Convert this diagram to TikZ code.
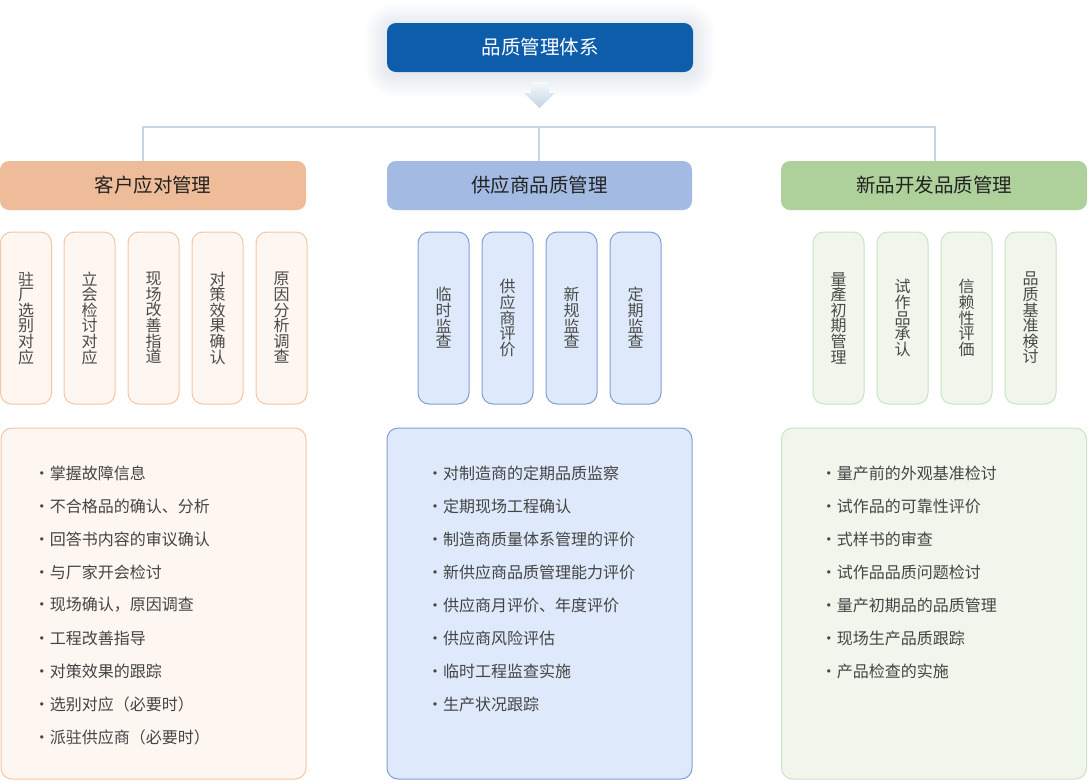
\documentclass[tikz,border=0pt]{standalone}
\usepackage{fontspec}
\setmainfont{Noto Sans CJK SC}
\definecolor{topblue}{HTML}{0E5DAA}
\definecolor{glowcol}{HTML}{3A5F8A}
\definecolor{lineblue}{HTML}{C4D6E5}
\definecolor{arrowtop}{HTML}{F6F9FB}
\definecolor{arrowbot}{HTML}{C3D4E2}
\definecolor{orangecat}{HTML}{EEBC98}
\definecolor{orangefill}{HTML}{FEF6F1}
\definecolor{orangeedge}{HTML}{F3C6A6}
\definecolor{bluecat}{HTML}{A3BBE3}
\definecolor{bluefill}{HTML}{DEEAFB}
\definecolor{blueedge}{HTML}{7F9FD3}
\definecolor{greencat}{HTML}{AED19B}
\definecolor{greenfill}{HTML}{F0F6EC}
\definecolor{greenedge}{HTML}{CBE3BF}
\definecolor{catcol}{HTML}{222222}
\definecolor{vtext}{HTML}{4A4A4A}
\definecolor{itemtext}{HTML}{444444}
\tikzset{
  conn/.style={draw=lineblue, line width=2pt},
  topbox/.style={fill=topblue, rounded corners=9pt, minimum width=306pt, minimum height=49pt, inner sep=0pt, text=white, font=\fontsize{19.5}{20}\selectfont},
  catbox/.style={rounded corners=9pt, minimum width=306pt, minimum height=49pt, inner sep=0pt, font=\fontsize{19.5}{20}\selectfont, text=catcol},
  vbox/.style={rounded corners=11pt, minimum width=51pt, minimum height=172pt, inner sep=0pt, line width=1pt, align=center, font=\fontsize{16}{15.6}\selectfont, text=vtext},
  listbox/.style={rounded corners=11pt, minimum width=305pt, minimum height=351pt, inner sep=0pt, line width=1pt},
  itemtxt/.style={anchor=west, inner sep=0pt, font=\fontsize{16}{16}\selectfont, text=itemtext},
}
\begin{document}
\begin{tikzpicture}[x=1pt,y=-1pt]
\useasboundingbox (0,0) rectangle (1088,780);
% soft glow of the top box
\foreach \k [evaluate=\k as \r using 9+1.4*\k] in {1,...,16}
  \fill[glowcol, opacity=0.0065, rounded corners=\r pt] ({387-1.4*\k},{25-1.4*\k}) rectangle ({693+1.4*\k},{75+1.4*\k});
\node[topbox] (top) at (540,47.5) {品质管理体系};
% arrow
\shade[top color=arrowtop, bottom color=arrowbot] (531,82) -- (549,82) -- (549,93) -- (555,93) -- (539.5,108) -- (524,93) -- (531,93) -- cycle;
% categories
\node[catbox, fill=orangecat] (cat1) at (153,185.5) {客户应对管理};
\node[catbox, fill=bluecat, minimum width=305pt] (cat2) at (539.5,185.5) {供应商品质管理};
\node[catbox, fill=greencat] (cat3) at (934,185.5) {新品开发品质管理};
% connectors
\coordinate (b1) at (143,127);
\coordinate (b2) at (539,127);
\coordinate (b3) at (935,127);
\draw[conn] (b1 |- cat1.north) -- (b1) -- (b3) -- (b3 |- cat3.north);
\draw[conn] (b2) -- (b2 |- cat2.north);
% vertical boxes, left
\node[vbox, fill=orangefill, draw=orangeedge] (o1) at (26,318) {驻\\厂\\选\\别\\对\\应};
\node[vbox, fill=orangefill, draw=orangeedge] (o2) at (89.5,318) {立\\会\\检\\讨\\对\\应};
\node[vbox, fill=orangefill, draw=orangeedge] (o3) at (153.5,318) {现\\场\\改\\善\\指\\道};
\node[vbox, fill=orangefill, draw=orangeedge] (o4) at (217.5,318) {对\\策\\效\\果\\确\\认};
\node[vbox, fill=orangefill, draw=orangeedge] (o5) at (281.5,318) {原\\因\\分\\析\\调\\查};
% vertical boxes, middle
\node[vbox, fill=bluefill, draw=blueedge] (m1) at (443.5,318) {临\\时\\监\\查};
\node[vbox, fill=bluefill, draw=blueedge] (m2) at (507.5,318) {供\\应\\商\\评\\价};
\node[vbox, fill=bluefill, draw=blueedge] (m3) at (571.5,318) {新\\规\\监\\查};
\node[vbox, fill=bluefill, draw=blueedge] (m4) at (635.5,318) {定\\期\\监\\查};
% vertical boxes, right
\node[vbox, fill=greenfill, draw=greenedge] (g1) at (838.5,318) {量\\產\\初\\期\\管\\理};
\node[vbox, fill=greenfill, draw=greenedge] (g2) at (902.5,318) {试\\作\\品\\承\\认};
\node[vbox, fill=greenfill, draw=greenedge] (g3) at (966.5,318) {信\\赖\\性\\评\\価};
\node[vbox, fill=greenfill, draw=greenedge] (g4) at (1030.5,318) {品\\质\\基\\准\\検\\讨};
% list boxes
\node[listbox, fill=orangefill, draw=orangeedge] (lb1) at (153.5,603.5) {};
\node[listbox, fill=bluefill, draw=blueedge] (lb2) at (539.5,603.5) {};
\node[listbox, fill=greenfill, draw=greenedge] (lb3) at (934,603.5) {};
% list items
\foreach \t [count=\i] in {掌握故障信息,不合格品的确认、分析,回答书内容的审议确认,与厂家开会检讨,现场确认，原因调查,工程改善指导,对策效果的跟踪,选别对应（必要时）,派驻供应商（必要时）}
  \node[itemtxt] (la\i) at (33.7,{473+33*(\i-1)}) {・\t};
\foreach \t [count=\i] in {对制造商的定期品质监察,定期现场工程确认,制造商质量体系管理的评价,新供应商品质管理能力评价,供应商月评价、年度评价,供应商风险评估,临时工程监查实施,生产状况跟踪}
  \node[itemtxt] (lm\i) at (427,{473+33*(\i-1)}) {・\t};
\foreach \t [count=\i] in {量产前的外观基准检讨,试作品的可靠性评价,式样书的审查,试作品品质问题检讨,量产初期品的品质管理,现场生产品质跟踪,产品检查的实施}
  \node[itemtxt] (lg\i) at (820.7,{473+33*(\i-1)}) {・\t};
\end{tikzpicture}
\end{document}
